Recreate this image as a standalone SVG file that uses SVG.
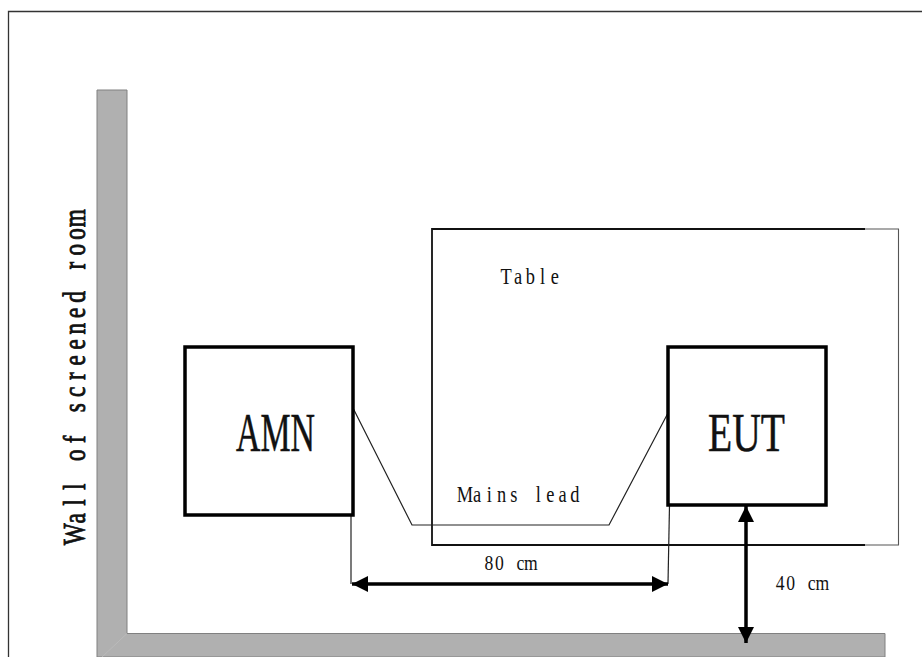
<svg xmlns="http://www.w3.org/2000/svg" width="922" height="657" viewBox="0 0 922 657">
<style>
text{font-family:"Liberation Serif","Noto Sans CJK SC",serif;fill:#111;text-anchor:middle}
.lab{font-size:23px}
.dimt{font-size:22px}
.big{font-size:55px;text-anchor:start;stroke:#111;stroke-width:.5}
.wt{font-size:31px;stroke:#111;stroke-width:.9}
.box{fill:#fff;stroke:#000;stroke-width:3.5}
.thin{fill:none;stroke:#222;stroke-width:1.2}
.dim{fill:none;stroke:#000;stroke-width:3.5}
</style>
<defs>
<marker id="ah" markerUnits="userSpaceOnUse" markerWidth="17" markerHeight="17" refX="16" refY="8" orient="auto-start-reverse"><path d="M0,0L16,8L0,16Z" fill="#000"/></marker>
</defs>
<rect width="922" height="657" fill="#fff"/>
<path d="M8.500,657V11.500H922" fill="none" stroke="#333" stroke-width="1.300"/>
<g id="wall">
<path d="M97,90H127V633.500H885V657H97Z" fill="#b0b0b0" stroke="#808080" stroke-width="1"/>
<path d="M127,633.500L102,657" stroke="#bdbdbd" stroke-width="0.800" fill="none"/>
<text class="wt" transform="translate(85,542) rotate(-90) scale(.75,1)" x="10.400 31.600 52.600 73.800 94.800 115.800 137 158 179 200.200 221.200 242.200 263.400 284.400 305.400 326.600 347.600 368.600 389.800 410.800 431.800" y="0">Wall of screened room</text>
</g>
<g id="table">
<path d="M865,229H898.500V545H865" fill="none" stroke="#555" stroke-width="1.100"/>
<path d="M865,229H432V545H865" fill="none" stroke="#111" stroke-width="1.800"/>
<text class="lab" transform="scale(.8,1)" x="632.500 647.700 663 678.200 693.500" y="284">Table</text>
</g>
<g id="connectors">
<path class="thin" d="M353,408L412,525H609L668,413"/>
<path class="thin" d="M351,515V584"/>
<path class="thin" d="M669.500,505L668,584"/>
<path class="dim" d="M352,584H668" marker-start="url(#ah)" marker-end="url(#ah)"/>
<path class="dim" d="M746,506V643" marker-start="url(#ah)" marker-end="url(#ah)"/>
</g>
<g id="amn">
<rect class="box" x="185" y="347" width="168" height="168"/>
<text class="big" x="236" y="451" textLength="79" lengthAdjust="spacingAndGlyphs">AMN</text>
</g>
<g id="eut">
<rect class="box" x="668" y="347" width="158" height="158"/>
<text class="big" x="708" y="451" textLength="77" lengthAdjust="spacingAndGlyphs">EUT</text>
</g>
<text id="mains-lead" class="lab" transform="scale(.8,1)" x="581.200 596.500 611.700 626.900 642.200 657.500 672.800 688 703.200 718.500" y="502.500">Mains lead</text>
<text id="dim-80" class="dimt" transform="scale(.8,1)" x="611.100 624.200 637.400 650.500 663.700" y="570.500">80 cm</text>
<text id="dim-40" class="dimt" transform="scale(.8,1)" x="975.200 988.400 1001.500 1014.700 1027.800" y="590.500">40 cm</text>
</svg>
